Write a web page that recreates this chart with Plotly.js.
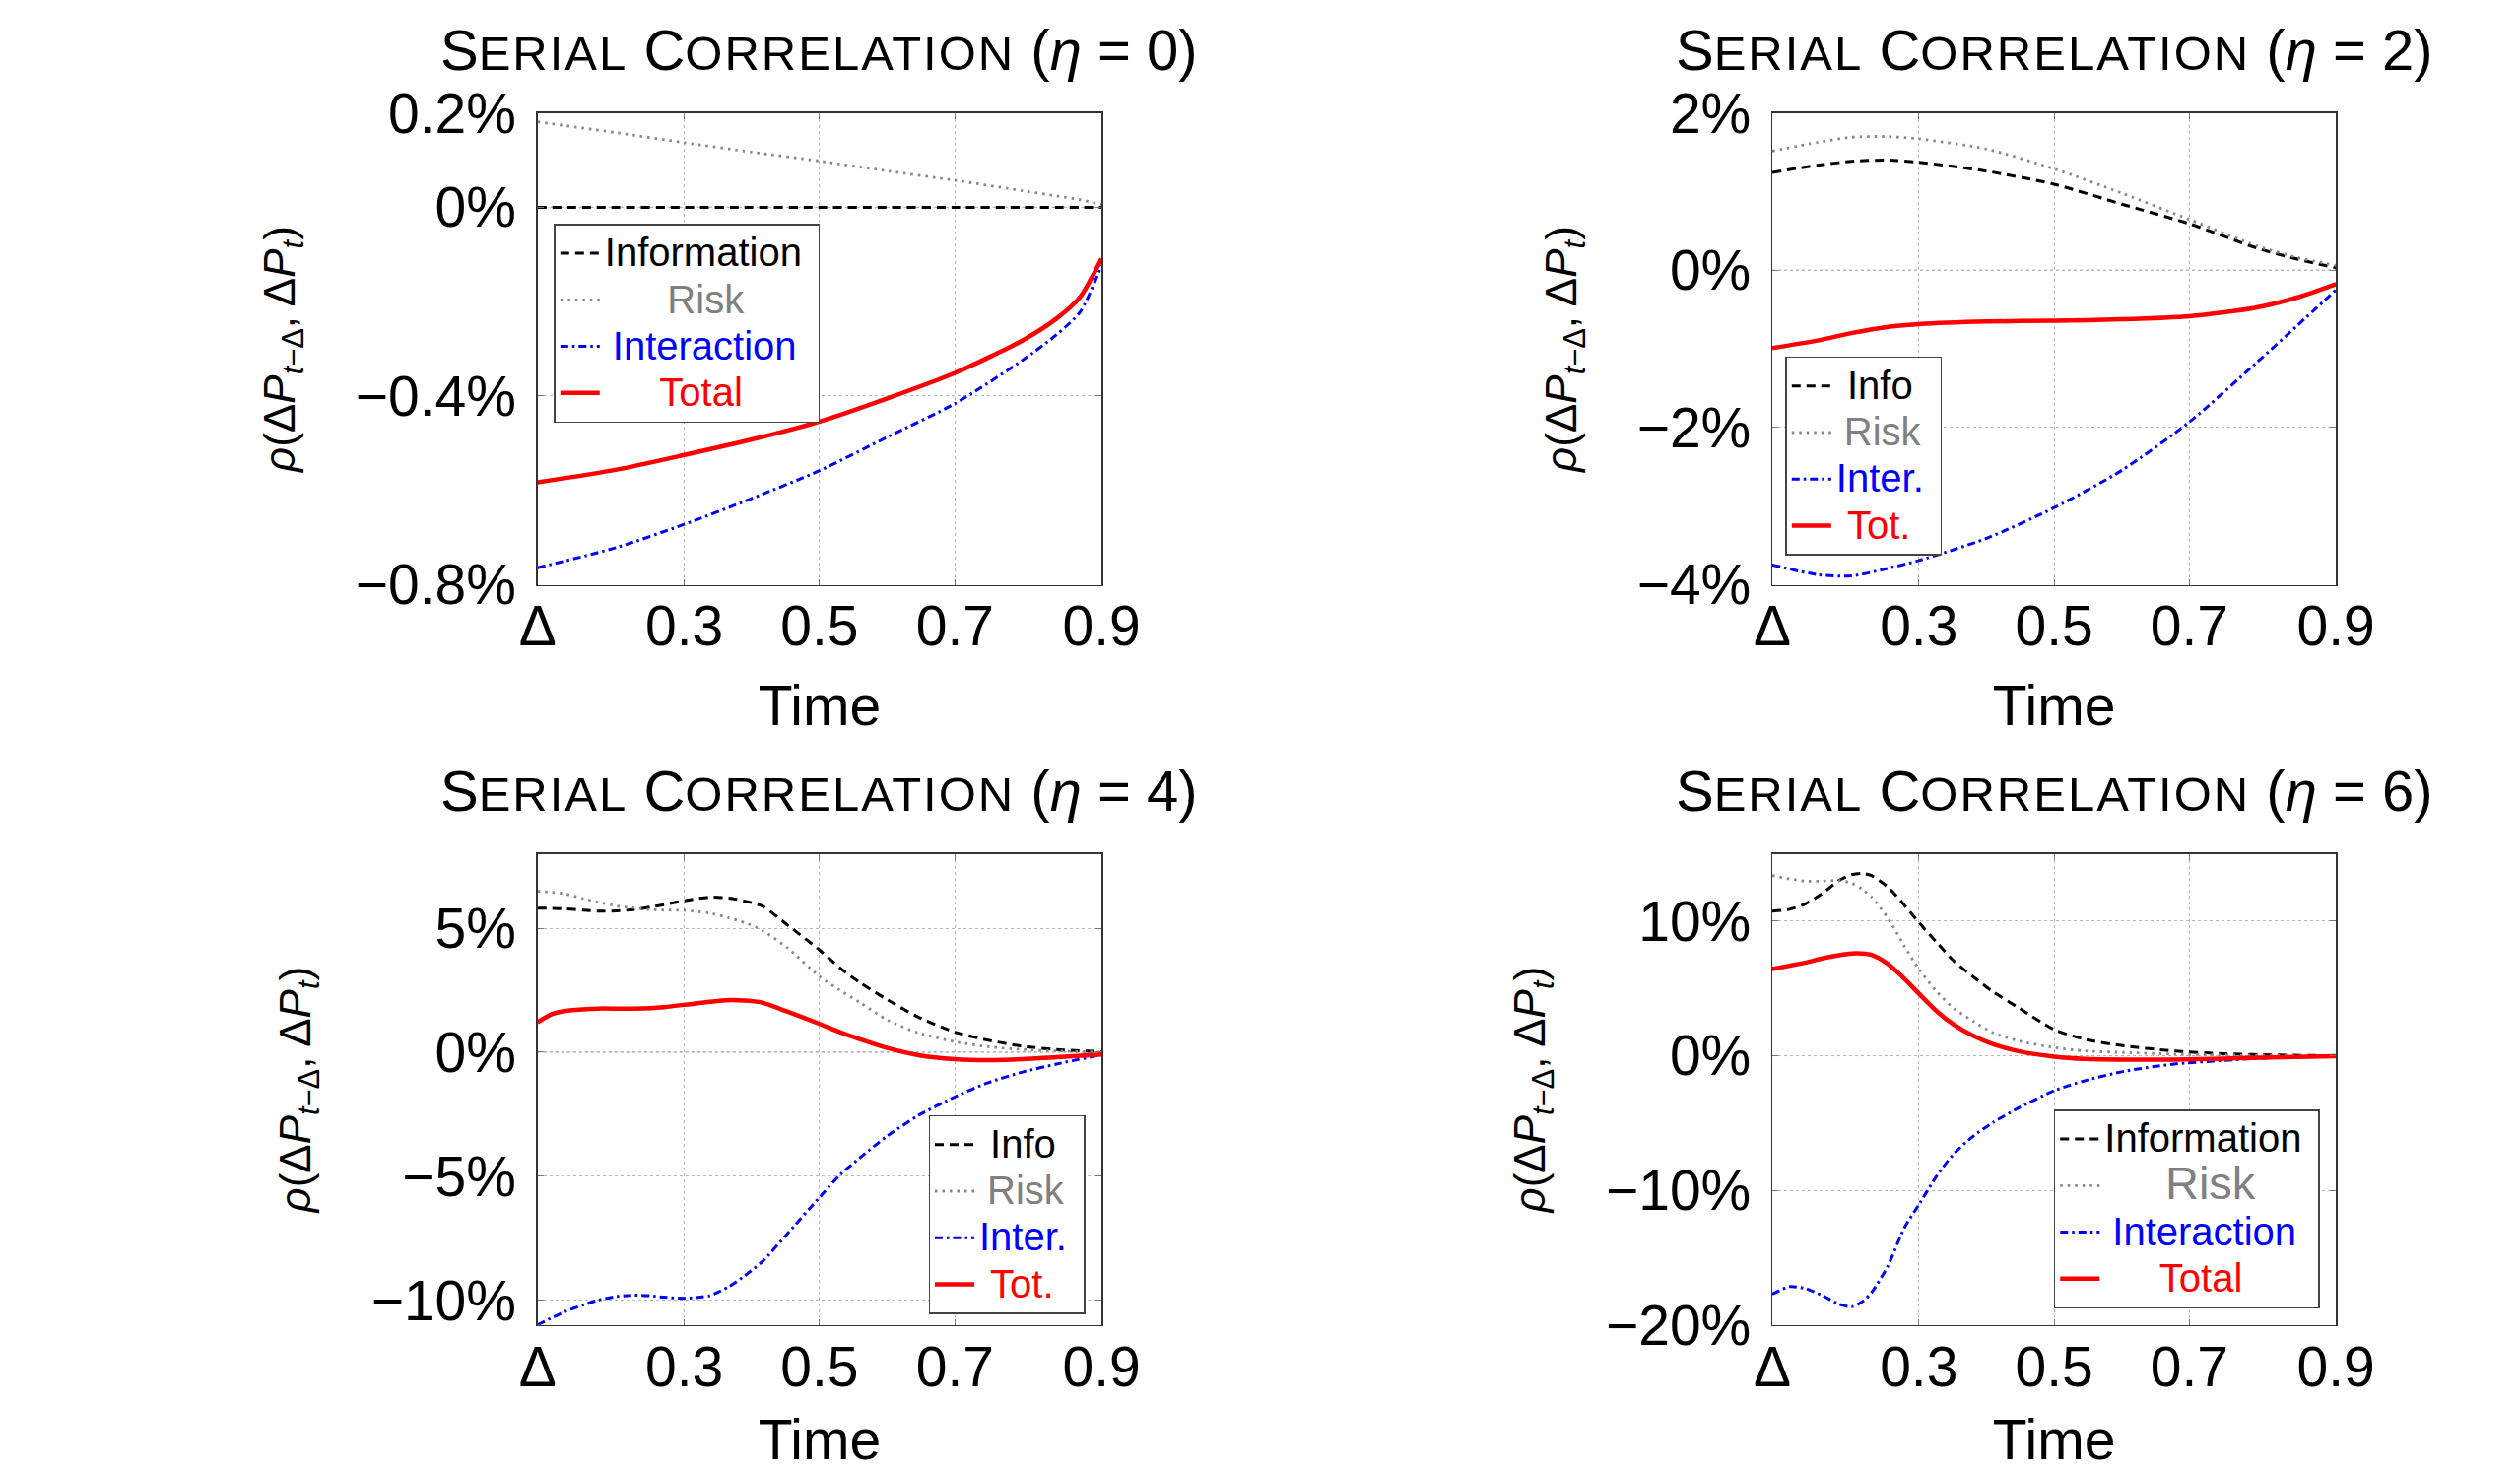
<!DOCTYPE html>
<html><head><meta charset="utf-8">
<script src="https://cdn.plot.ly/plotly-3.0.1.min.js"></script>
<style>html,body{margin:0;padding:0;background:#fff;} #chart{width:2558px;height:1493px;}</style>
</head><body><div id="chart"></div>
<script>
// ---------------- data ----------------
const xTickVals = [1/12, 0.3, 0.5, 0.7, 11/12];
const xTickText = ['Δ', '0.3', '0.5', '0.7', '0.9'];
const etaValues = [0, 2, 4, 6];

// Panel 1 (eta = 0), values in %
const time1 = [0.0833, 0.2, 0.3, 0.4, 0.5, 0.6, 0.7, 0.8, 0.85, 0.885, 0.9167];
const info1 = [0, 0, 0, 0, 0, 0, 0, 0, 0, 0, 0];
const risk1 = [0.181, 0.158, 0.137, 0.117, 0.098, 0.077, 0.057, 0.035, 0.024, 0.016, 0.006];
const inter1 = [-0.764, -0.721, -0.672, -0.617, -0.558, -0.487, -0.416, -0.324, -0.270, -0.222, -0.123];
const total1 = [-0.583, -0.556, -0.525, -0.492, -0.454, -0.405, -0.351, -0.282, -0.236, -0.190, -0.109];
const yTickVals1 = [-0.8, -0.4, 0, 0.2];
const yTickText1 = ['−0.8%', '−0.4%', '0%', '0.2%'];

// Panel 2 (eta = 2)
const time2 = [0.0833, 0.15, 0.2, 0.25, 0.3, 0.4, 0.5, 0.6, 0.7, 0.8, 0.86, 0.9167];
const info2 = [1.244, 1.334, 1.384, 1.40, 1.373, 1.26, 1.093, 0.84, 0.59, 0.28, 0.14, 0.03];
const risk2 = [1.513, 1.625, 1.69, 1.70, 1.67, 1.54, 1.289, 0.98, 0.645, 0.31, 0.16, 0.06];
const inter2 = [-3.748, -3.871, -3.888, -3.80, -3.692, -3.41, -3.02, -2.545, -1.93, -1.17, -0.70, -0.25];
const total2 = [-0.989, -0.894, -0.80, -0.726, -0.687, -0.653, -0.642, -0.625, -0.586, -0.474, -0.345, -0.177];
const yTickVals2 = [-4, -2, 0, 2];
const yTickText2 = ['−4%', '−2%', '0%', '2%'];

// Panel 3 (eta = 4)
const time3 = [0.0833, 0.105, 0.125, 0.15, 0.173, 0.2, 0.225, 0.25, 0.27, 0.3, 0.337, 0.366, 0.39, 0.415, 0.453, 0.5, 0.53, 0.56, 0.6, 0.646, 0.7, 0.75, 0.8, 0.85, 0.9167];
const info3 = [5.81, 5.80, 5.78, 5.73, 5.69, 5.70, 5.75, 5.85, 5.95, 6.11, 6.25, 6.22, 6.09, 5.90, 5.12, 4.12, 3.40, 2.80, 2.12, 1.41, 0.81, 0.48, 0.24, 0.11, 0.02];
const risk3 = [6.49, 6.45, 6.38, 6.20, 6.05, 5.90, 5.82, 5.75, 5.73, 5.72, 5.61, 5.42, 5.22, 4.92, 4.20, 3.05, 2.50, 2.00, 1.30, 0.78, 0.42, 0.22, 0.11, 0.05, 0.0];
const inter3 = [-11.0, -10.7, -10.45, -10.2, -10.0, -9.85, -9.80, -9.82, -9.88, -9.92, -9.82, -9.45, -9.0, -8.45, -7.3, -5.85, -4.95, -4.25, -3.38, -2.55, -1.80, -1.22, -0.80, -0.48, -0.10];
const total3 = [1.21, 1.54, 1.67, 1.73, 1.76, 1.76, 1.76, 1.78, 1.82, 1.91, 2.03, 2.10, 2.08, 2.00, 1.63, 1.14, 0.81, 0.52, 0.17, -0.12, -0.28, -0.32, -0.28, -0.20, -0.09];
const yTickVals3 = [-10, -5, 0, 5];
const yTickText3 = ['−10%', '−5%', '0%', '5%'];

// Panel 4 (eta = 6)
const time4 = [0.0833, 0.109, 0.133, 0.157, 0.182, 0.201, 0.2155, 0.23, 0.2544, 0.2786, 0.3, 0.327, 0.3515, 0.381, 0.41, 0.4485, 0.5, 0.5456, 0.604, 0.677, 0.75, 0.82, 0.9167];
const info4 = [10.75, 10.88, 11.31, 12.04, 13.02, 13.45, 13.55, 13.38, 12.53, 11.19, 9.90, 8.39, 7.06, 5.84, 4.74, 3.53, 1.95, 1.22, 0.73, 0.36, 0.15, 0.06, 0.0];
const risk4 = [13.38, 13.14, 12.97, 12.97, 13.02, 12.82, 12.41, 11.80, 10.22, 8.15, 6.45, 4.74, 3.53, 2.55, 1.70, 1.09, 0.61, 0.36, 0.24, 0.12, 0.05, 0.02, 0.0];
const inter4 = [-17.71, -17.15, -17.3, -17.8, -18.45, -18.65, -18.3, -17.6, -15.6, -12.77, -11.07, -8.88, -7.30, -5.95, -4.95, -3.85, -2.60, -1.85, -1.15, -0.62, -0.35, -0.15, -0.03];
const total4 = [6.45, 6.69, 6.93, 7.23, 7.47, 7.60, 7.60, 7.50, 6.82, 5.72, 4.62, 3.28, 2.31, 1.46, 0.85, 0.32, -0.07, -0.24, -0.29, -0.29, -0.22, -0.12, -0.03];
const yTickVals4 = [-20, -10, 0, 10];
const yTickText4 = ['−20%', '−10%', '0%', '10%'];

// legend labels
const namesLong = ['Information', 'Risk', 'Interaction', 'Total'];
const namesShort = ['Info', 'Risk', 'Inter.', 'Tot.'];

// ---------------- styling ----------------
const FONT = 'Liberation Sans, Arial, Helvetica, sans-serif';
const W = 2558, H = 1493, MB = 130;
const HIN = H - MB;
const px2x = (px) => px / W;
const py2y = (py) => (HIN - py) / HIN;
const NB = '\u00a0', TH = '\u2009';
const seriesStyle = [
  {color: '#000000', width: 3.0, dash: '9px,6px'},
  {color: '#888888', width: 2.8, dash: '2.5px,5px'},
  {color: '#0000ff', width: 3.0, dash: '8px,4px,2.5px,4px'},
  {color: '#ff0000', width: 4.5, dash: 'solid'}
];
const textColors = ['#000000', '#808080', '#0000ff', '#ff0000'];

function lab(text, color, size, pad, tail) {
  return '<span style="font-size:' + size + 'px;color:' + color + '">' + pad + text + (tail || '') + '</span>';
}
// centred legend labels (padding emulates the centred text of the original)
const legendLabels = [
  [lab(namesLong[0], textColors[0], 40, '', NB), lab(namesLong[1], textColors[1], 40, NB.repeat(5) + TH), lab(namesLong[2], textColors[2], 40, TH), lab(namesLong[3], textColors[3], 40, NB.repeat(5))],
  [lab(namesShort[0], textColors[0], 40, NB), lab(namesShort[1], textColors[1], 40, TH), lab(namesShort[2], textColors[2], 40, '', NB), lab(namesShort[3], textColors[3], 40, NB)],
  [lab(namesShort[0], textColors[0], 40, NB), lab(namesShort[1], textColors[1], 40, TH), lab(namesShort[2], textColors[2], 40, '', NB), lab(namesShort[3], textColors[3], 40, NB)],
  [lab(namesLong[0], textColors[0], 40, '', NB), lab(namesLong[1], textColors[1], 47, NB.repeat(4) + TH), lab(namesLong[2], textColors[2], 40, TH), lab(namesLong[3], textColors[3], 40, NB.repeat(5))]
];

const panels = [
  {t: time1, s: [info1, risk1, inter1, total1], yr: [-0.8, 0.2], tv: yTickVals1, tt: yTickText1},
  {t: time2, s: [info2, risk2, inter2, total2], yr: [-4, 2], tv: yTickVals2, tt: yTickText2},
  {t: time3, s: [info3, risk3, inter3, total3], yr: [-11, 8], tv: yTickVals3, tt: yTickText3},
  {t: time4, s: [info4, risk4, inter4, total4], yr: [-20, 15], tv: yTickVals4, tt: yTickText4}
];

// pixel boxes of the four plot areas [left, right, top, bottom]
const boxes = [
  [545.7, 1118.2, 114.6, 593.5],
  [1799.0, 2371.2, 114.6, 593.5],
  [545.7, 1118.2, 866.6, 1344.8],
  [1799.0, 2371.2, 866.6, 1344.8]
];
// legend top-left corners in px
const legendPos = [[562.3, 227.0], [1812.3, 361.7], [942.5, 1131.7], [2084.8, 1126.0]];

const traces = [];
const layout = {
  width: W, height: H,
  margin: {l: 0, r: 0, t: 0, b: MB, pad: 0},
  paper_bgcolor: '#ffffff', plot_bgcolor: '#ffffff',
  font: {family: FONT, size: 57, color: '#000000'},
  showlegend: true,
  annotations: [], shapes: []
};

panels.forEach((p, i) => {
  const k = i === 0 ? '' : String(i + 1);
  const b = boxes[i];
  const legName = 'legend' + k;
  for (let j = 0; j < 4; j++) {
    traces.push({
      type: 'scatter', mode: 'lines',
      x: p.t, y: p.s[j],
      name: legendLabels[i][j],
      xaxis: 'x' + k, yaxis: 'y' + k,
      legend: legName,
      line: {color: seriesStyle[j].color, width: seriesStyle[j].width, dash: seriesStyle[j].dash, shape: 'spline', smoothing: 0.7},
      hoverinfo: 'skip'
    });
  }
  layout['xaxis' + k] = {
    domain: [px2x(b[0]), px2x(b[1])], anchor: 'y' + k,
    range: [xTickVals[0], xTickVals[xTickVals.length - 1]],
    tickmode: 'array', tickvals: xTickVals, ticktext: xTickText,
    showgrid: true, gridcolor: '#b8b8b8', griddash: 'dot', gridwidth: 1,
    zeroline: false, showline: true, mirror: 'ticks', linecolor: '#333333', linewidth: 1.3,
    ticks: 'inside', ticklen: 6, tickcolor: '#777777', tickwidth: 1,
    tickfont: {family: FONT, size: 57, color: '#000000'},
    ticklabelstandoff: -8,
    title: {text: 'Time', font: {family: FONT, size: 57, color: '#000000'}, standoff: 30},
    automargin: false, fixedrange: true
  };
  layout['yaxis' + k] = {
    domain: [py2y(b[3]), py2y(b[2])], anchor: 'x' + k,
    range: p.yr, tickmode: 'array', tickvals: p.tv, ticktext: p.tt,
    showgrid: true, gridcolor: '#b8b8b8', griddash: 'dot', gridwidth: 1,
    zeroline: false, showline: true, mirror: 'ticks', linecolor: '#333333', linewidth: 1.3,
    ticks: 'inside', ticklen: 6, tickcolor: '#777777', tickwidth: 1,
    tickfont: {family: FONT, size: 57, color: '#000000'},
    ticklabelstandoff: 9,
    title: {text: '<i>ρ</i>(Δ<i>P</i><sub><i>t</i>−Δ</sub>, Δ<i>P</i><sub><i>t</i></sub>)', font: {family: FONT, size: 44, color: '#000000'}, standoff: 47},
    automargin: false, fixedrange: true
  };
  layout[legName] = {
    x: px2x(legendPos[i][0]), y: py2y(legendPos[i][1]),
    xanchor: 'left', yanchor: 'top', xref: 'paper', yref: 'paper',
    bgcolor: '#ffffff', bordercolor: '#444444', borderwidth: 1.5,
    font: {family: FONT, size: 34, color: '#000000'},
    itemwidth: 40, tracegroupgap: 0, traceorder: 'normal'
  };
  // zero reference line (thin blue dotted)
  layout.shapes.push({
    type: 'line', layer: 'below', xref: 'x' + k + ' domain', x0: 0, x1: 1,
    yref: 'y' + k, y0: 0, y1: 0,
    line: {color: '#7b7bf0', width: 1, dash: 'dot'}
  });
  // panel title
  const sc = (s) => '<span style="font-size:49px;letter-spacing:2px">' + s + '</span>';
  layout.annotations.push({
    xref: 'paper', yref: 'paper',
    x: px2x((b[0] + b[1]) / 2), y: py2y(b[2] - 30),
    xanchor: 'center', yanchor: 'bottom', showarrow: false,
    text: 'S' + sc('ERIAL') + ' C' + sc('ORRELATION') + ' (<i>η</i> = ' + etaValues[i] + ')',
    font: {family: FONT, size: 58, color: '#000000'}
  });
});

Plotly.newPlot('chart', traces, layout, {staticPlot: true, displayModeBar: false});
</script>
</body></html>
